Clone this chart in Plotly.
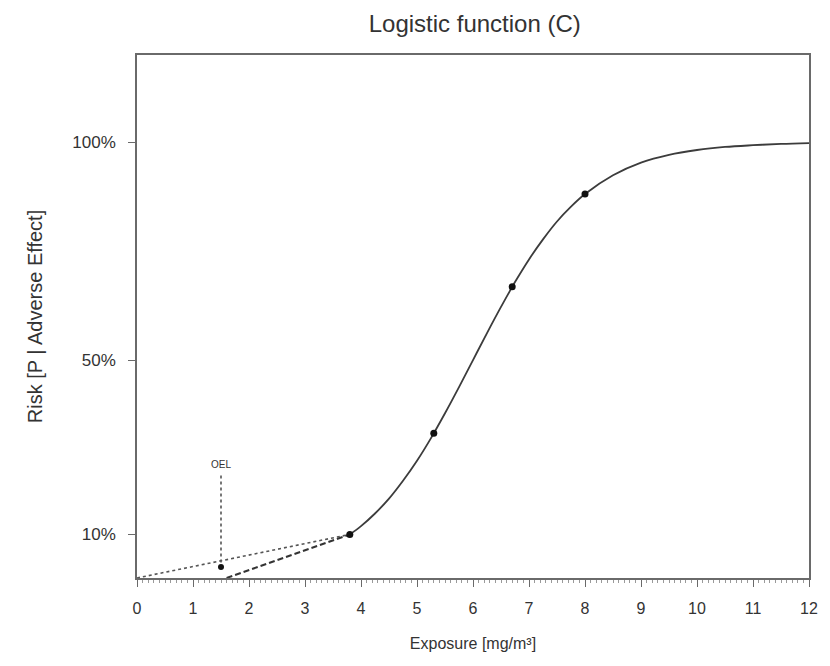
import plotly.graph_objects as go

# Logistic dose-response curve (exposure in mg/m3, risk as fraction)
curve_x = [3.8, 4.0, 4.25, 4.5, 4.75, 5.0, 5.25, 5.5, 5.75, 6.0, 6.25, 6.5, 6.75, 7.0,
           7.25, 7.5, 7.75, 8.0, 8.5, 9.0, 9.5, 10.0, 10.5, 11.0, 11.5, 12.0]
curve_y = [0.100, 0.119, 0.148, 0.182, 0.223, 0.269, 0.321, 0.378, 0.438, 0.500, 0.562, 0.622,
           0.679, 0.731, 0.777, 0.818, 0.852, 0.881, 0.924, 0.953, 0.971, 0.982, 0.989, 0.993,
           0.996, 0.998]

# Observed points on the curve
obs_x = [3.8, 5.3, 6.7, 8.0]
obs_y = [0.100, 0.332, 0.668, 0.881]

# Low-dose extrapolations from the lowest observed point
linear_x = [0.0, 3.8]
linear_y = [0.0, 0.10]
threshold_x = [1.6, 3.8]
threshold_y = [0.0, 0.10]

# Occupational exposure limit marker
oel_x = 1.5
oel_line_y = [0.235, 0.035]
oel_point_y = 0.025
oel_label_y = 0.26

y_tickvals = [0.10, 0.50, 1.00]
y_ticktext = ["10%", "50%", "100%"]
x_tickvals = list(range(0, 13))

line_col = "#3c3c3c"
frame_col = "#6a6a6a"
text_col = "#333333"
font_family = "Liberation Sans, Arial, sans-serif"

fig = go.Figure()

fig.add_trace(go.Scatter(x=linear_x, y=linear_y, mode="lines",
                         line=dict(color="#555555", width=1.6, dash="dot"),
                         hoverinfo="skip"))
fig.add_trace(go.Scatter(x=threshold_x, y=threshold_y, mode="lines",
                         line=dict(color="#333333", width=2, dash="6px,3px"),
                         hoverinfo="skip"))
fig.add_trace(go.Scatter(x=curve_x, y=curve_y, mode="lines",
                         line=dict(color=line_col, width=1.8, shape="spline", smoothing=1),
                         hoverinfo="skip"))
fig.add_trace(go.Scatter(x=obs_x, y=obs_y, mode="markers",
                         marker=dict(color="#111111", size=7, symbol="circle"),
                         hoverinfo="skip"))
fig.add_trace(go.Scatter(x=[oel_x, oel_x], y=oel_line_y, mode="lines",
                         line=dict(color="#555555", width=1.6, dash="dot"),
                         hoverinfo="skip"))
fig.add_trace(go.Scatter(x=[oel_x], y=[oel_point_y], mode="markers",
                         marker=dict(color="#111111", size=6, symbol="circle"),
                         hoverinfo="skip"))

fig.add_annotation(x=oel_x, y=oel_label_y, text="OEL", showarrow=False,
                   font=dict(family=font_family, size=10, color=text_col),
                   xanchor="center", yanchor="middle")

fig.update_layout(
    width=830, height=666,
    margin=dict(l=137, r=12, t=55, b=88),
    paper_bgcolor="white", plot_bgcolor="white",
    showlegend=False,
    title=dict(text="Logistic function (C)", x=0.572, xanchor="center",
               y=0.965, yanchor="middle",
               font=dict(family=font_family, size=24, color=text_col)),
    font=dict(family=font_family, color=text_col),
)

fig.update_xaxes(
    range=[0, 12], tickvals=x_tickvals, ticks="outside", ticklen=7,
    tickwidth=1.3, tickcolor=frame_col,
    minor=dict(dtick=0.1, ticks="outside", ticklen=3, tickcolor="#9a9a9a", tickwidth=1),
    showline=True, linecolor=frame_col, linewidth=1.6, mirror=True,
    showgrid=False, zeroline=False,
    tickfont=dict(size=16, color=text_col), ticklabelstandoff=8,
    title=dict(text="Exposure [mg/m³]", font=dict(size=16, color=text_col), standoff=22),
)
fig.update_yaxes(
    range=[0, 1.2], tickvals=y_tickvals, ticktext=y_ticktext,
    ticks="outside", ticklen=7, tickwidth=1.3, tickcolor=frame_col,
    showline=True, linecolor=frame_col, linewidth=1.6, mirror=True,
    showgrid=False, zeroline=False,
    tickfont=dict(size=17, color=text_col), ticklabelstandoff=9,
    title=dict(text="Risk [P | Adverse Effect]", font=dict(size=20, color=text_col), standoff=24),
)

fig.write_html("out.html")
